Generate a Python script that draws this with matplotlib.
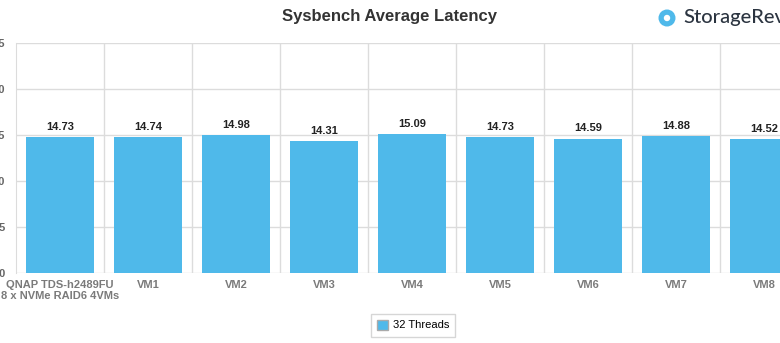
import numpy as np
import matplotlib.pyplot as plt
from matplotlib.patches import Patch, Circle

plt.rcParams['font.family'] = ['Liberation Sans', 'DejaVu Sans']

categories = ["QNAP TDS-h2489FU\n8 x NVMe RAID6 4VMs", "VM1", "VM2", "VM3",
              "VM4", "VM5", "VM6", "VM7", "VM8"]
latency = [14.73, 14.74, 14.98, 14.31, 15.09, 14.73, 14.59, 14.88, 14.52]
yticks = [0, 5, 10, 15, 20, 25]

bar_color = '#4fb9ea'
grid_color = '#dcdcdc'

fig = plt.figure(figsize=(7.8, 3.43), dpi=100)
# plot area runs past the right edge of the figure, so the last column is cut
ax = fig.add_axes([16 / 780, 70 / 343, 792 / 780, 230 / 343])

x = np.arange(len(categories))
bars = ax.bar(x, latency, width=0.77, color=bar_color, zorder=2)

for xi, v in zip(x, latency):
    ax.annotate(f"{v:.2f}", (xi, v), xytext=(0, 4), textcoords='offset points',
                ha='center', va='bottom', fontsize=8, fontweight='bold',
                color='#222222')

ax.set_xlim(-0.5, len(categories) - 0.5)
ax.set_ylim(0, 25)
ax.set_yticks(yticks)
ax.set_xticks(x)
ax.set_xticklabels(categories, fontsize=8, fontweight='bold', color='#7a7a7a',
                   linespacing=1.15)
ax.set_xticks(x[:-1] + 0.5, minor=True)
ax.tick_params(axis='x', which='both', length=0, pad=5)
ax.tick_params(axis='y', length=0, pad=8, labelsize=8, labelcolor='#666666')
for lab in ax.get_yticklabels():
    lab.set_fontweight('bold')

ax.grid(axis='y', color=grid_color, linewidth=1, zorder=0)
ax.grid(axis='x', which='minor', color=grid_color, linewidth=1, zorder=0)
for side in ['top', 'right', 'bottom']:
    ax.spines[side].set_visible(False)
ax.spines['left'].set_color(grid_color)

fig.text(0.5, 1 - 17 / 343, "Sysbench Average Latency", ha='center', va='center',
         fontsize=12, fontweight='bold', color='#333333')

# site logo, top right (icon drawn in inches so it stays round)
icon_c = (6.67, 3.43 - 0.18)
fig.add_artist(Circle(icon_c, 0.085, transform=fig.dpi_scale_trans,
                      color='#4fb9ea', lw=0))
fig.add_artist(Circle(icon_c, 0.032, transform=fig.dpi_scale_trans,
                      color='white', lw=0))
fig.text(683 / 780, 1 - 18 / 343, "StorageReview", ha='left', va='center',
         fontsize=14.5, color='#2b3440', family='Lato', fontweight='medium')

fig.legend(handles=[Patch(facecolor=bar_color, edgecolor='#aaaaaa', label='32 Threads')],
           loc='center', bbox_to_anchor=(413 / 780, 1 - 325 / 343), fontsize=8,
           frameon=True, fancybox=False, edgecolor='#cccccc', handlelength=1.0,
           handleheight=1.0, handletextpad=0.4, borderpad=0.55)

fig.savefig('out.png', dpi=100)
